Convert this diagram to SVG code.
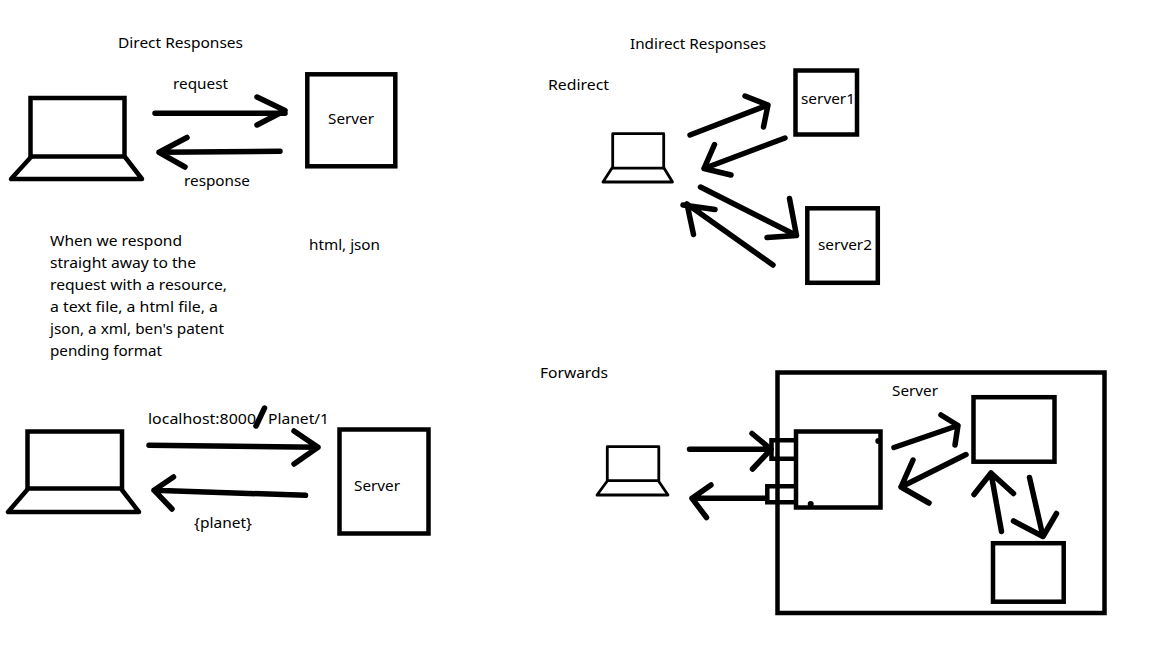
<svg xmlns="http://www.w3.org/2000/svg" width="1152" height="648" viewBox="0 0 1152 648">
<style>
text{font-family:"Noto Sans","Open Sans","Liberation Sans",sans-serif;font-size:15px;fill:#000}
.b{fill:none;stroke:#000;stroke-width:4.5}
.t{fill:none;stroke:#000;stroke-width:2.8;stroke-linejoin:round;stroke-linecap:round}
.l{fill:none;stroke:#000;stroke-width:4.5;stroke-linejoin:round;stroke-linecap:round}
.c{fill:none;stroke:#000;stroke-width:5.500;stroke-linecap:round;stroke-linejoin:round}
</style>
<rect width="1152" height="648" fill="#fff"/>
<g id="labels">
<text x="118" y="48" textLength="125" lengthAdjust="spacingAndGlyphs">Direct Responses</text>
<text x="630" y="49" textLength="136" lengthAdjust="spacingAndGlyphs">Indirect Responses</text>
<text x="548" y="90" textLength="61" lengthAdjust="spacingAndGlyphs">Redirect</text>
<text x="173" y="89" textLength="55" lengthAdjust="spacingAndGlyphs">request</text>
<text x="184" y="186" textLength="66" lengthAdjust="spacingAndGlyphs">response</text>
<text x="50" y="245.500" textLength="132" lengthAdjust="spacingAndGlyphs">When we respond</text>
<text x="50" y="267.500" textLength="146" lengthAdjust="spacingAndGlyphs">straight away to the</text>
<text x="50" y="290" textLength="177" lengthAdjust="spacingAndGlyphs">request with a resource,</text>
<text x="50" y="312" textLength="168" lengthAdjust="spacingAndGlyphs">a text file, a html file, a</text>
<text x="50" y="334" textLength="174" lengthAdjust="spacingAndGlyphs">json, a xml, ben's patent</text>
<text x="50" y="356" textLength="112" lengthAdjust="spacingAndGlyphs">pending format</text>
<text x="309" y="250" textLength="71" lengthAdjust="spacingAndGlyphs">html, json</text>
<text x="148" y="424" textLength="108" lengthAdjust="spacingAndGlyphs">localhost:8000</text>
<text x="268" y="423.500" textLength="61" lengthAdjust="spacingAndGlyphs">Planet/1</text>
<text x="194" y="527.500" textLength="58" lengthAdjust="spacingAndGlyphs">{planet}</text>
<text x="540" y="378" textLength="68" lengthAdjust="spacingAndGlyphs">Forwards</text>
<text x="892" y="396" textLength="46" lengthAdjust="spacingAndGlyphs">Server</text>
</g>
<g id="laptop-direct">
<rect class="b" x="30.500" y="98" width="94" height="58.500"/>
<path class="l" d="M31 157L11 179H142L125 157"/>
</g>
<g id="server-direct">
<rect class="b" x="307.300" y="74.300" width="88" height="92"/>
<text x="328" y="124" textLength="46" lengthAdjust="spacingAndGlyphs">Server</text>
</g>
<g id="laptop-redirect">
<rect class="t" x="612.700" y="133.700" width="51" height="34.500"/>
<path class="t" d="M612 168L603 182H672.500L664 168"/>
</g>
<g id="server1">
<rect class="b" x="795.500" y="70.500" width="61.500" height="64"/>
<text x="801" y="104" textLength="54" lengthAdjust="spacingAndGlyphs">server1</text>
</g>
<g id="server2">
<rect class="b" x="807.300" y="208.300" width="70.500" height="74.500"/>
<text x="818" y="250" textLength="54" lengthAdjust="spacingAndGlyphs">server2</text>
</g>
<g id="laptop-planet">
<rect class="b" x="27.500" y="431.500" width="94.500" height="57"/>
<path class="l" d="M27 490L8 512H139L122 490"/>
</g>
<g id="server-planet">
<rect class="b" x="339.500" y="429.500" width="89" height="104"/>
<text x="354" y="491" textLength="46" lengthAdjust="spacingAndGlyphs">Server</text>
</g>
<g id="laptop-forward">
<rect class="t" x="607.300" y="446.700" width="51.500" height="34"/>
<path class="t" d="M607.300 481L597 495H668L658.500 481"/>
</g>
<g id="server-forward">
<rect class="b" x="777.500" y="372.500" width="327" height="240.500"/>
</g>
<g id="forward-box">
<rect class="b" x="796" y="431.500" width="84.500" height="76"/>
<path class="b" d="M794 440.300H771.500V458.800H794"/>
<path class="b" d="M794 486.300H767.300V502.300H794"/>
<circle cx="878.300" cy="441" r="3"/>
<circle cx="810.700" cy="504" r="3"/>
</g>
<g id="box-a"><rect class="b" x="973.500" y="397.200" width="81" height="64.500"/></g>
<g id="box-b"><rect class="b" x="993" y="543.200" width="70.700" height="58.500"/></g>
<g id="connectors">
<path class="c" d="M155 113.300H285M257 97L285 110.500L257 125"/>
<path class="c" d="M280 151.300L159 152.300M187 137.500L159 152.300L185 167"/>
<path class="c" d="M690 135L768 105M745 96L768 105L763.500 127"/>
<path class="c" d="M785 138L704 168.500M714.500 144.500L704 168.500L731 175"/>
<path class="c" d="M700.500 187L796.500 235.500M789.500 198.500L796.500 235.500L767 237.500"/>
<path class="c" d="M773 265L687 204M715 209.500L683 205M687 204L693.500 234.500"/>
<path class="c" d="M149 445.300L318 447.300M294 431L318 447.300L294 464"/>
<path class="c" d="M305.500 495.300L154 490.200M173.500 477L154 490.200L172 509"/>
<path class="c" d="M256 426L264.500 408"/>
<path class="c" d="M689.500 449.300H771M752 433.500L771 449.300L752.500 469"/>
<path class="c" d="M766 498.300H692M711 485L692 498.300L706.500 517.500"/>
<path class="c" d="M894 447.500L958 425.500M941 415L958 425.500L955 445"/>
<path class="c" d="M966 454.500L901 487M913 460L901 487L929 503"/>
<path class="c" d="M1001.500 531.500L991 473M974 494.500L991 473L1013.500 493.500"/>
<path class="c" d="M1029.500 477.500L1043 536.500M1013.500 521L1043 536.500L1056.500 513.500"/>
</g>
</svg>
